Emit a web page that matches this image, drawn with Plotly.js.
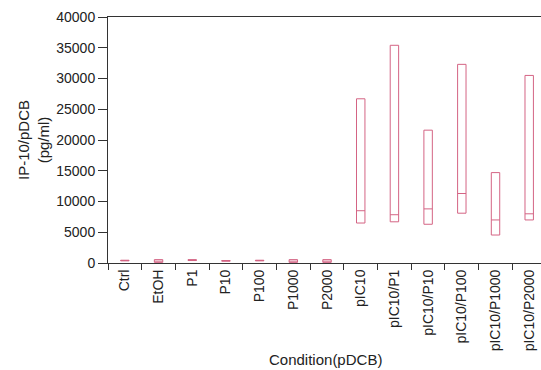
<!DOCTYPE html>
<html><head><meta charset="utf-8">
<script src="https://cdn.plot.ly/plotly-3.0.1.min.js"></script>
<style>html,body{margin:0;padding:0;background:#fff}</style>
</head><body><div id="chart" style="width:541px;height:370px"></div>
<script>
const categories = ["Ctrl","EtOH","P1","P10","P100","P1000","P2000","pIC10","pIC10/P1","pIC10/P10","pIC10/P100","pIC10/P1000","pIC10/P2000"];
const minVals    = [350, 100, 400, 300, 350, 100, 100, 6500, 6700, 6300, 8100, 4550, 7000];
const medianVals = [400, 300, 450, 350, 400, 300, 300, 8500, 7850, 8800, 11300, 7000, 8000];
const maxVals    = [450, 550, 550, 400, 450, 550, 550, 26700, 35400, 21600, 32300, 14700, 30500];
const yTicks = [0,5000,10000,15000,20000,25000,30000,35000,40000];

const trace = {
  type: 'box',
  x: categories,
  q1: minVals,
  median: medianVals,
  q3: maxVals,
  lowerfence: minVals,
  upperfence: maxVals,
  width: 0.25,
  whiskerwidth: 0,
  fillcolor: 'rgba(0,0,0,0)',
  line: {color: 'rgb(212,100,132)', width: 1},
  hoverinfo: 'skip',
  showlegend: false
};

const font = {family: '"Liberation Sans", Arial, sans-serif', size: 14, color: '#222'};
const titleFont = {family: '"Liberation Sans", Arial, sans-serif', size: 15, color: '#222'};
const layout = {
  width: 541, height: 370,
  margin: {l: 108, r: 0, t: 17, b: 107},
  paper_bgcolor: '#fff', plot_bgcolor: '#fff',
  font: font,
  showlegend: false,
  xaxis: {
    type: 'category',
    range: [-0.5, 12.35],
    tickson: 'boundaries',
    ticks: 'outside', ticklen: 6, tickcolor: '#333', tickwidth: 1,
    tickangle: -90,
    showline: true, linecolor: '#333', linewidth: 1, mirror: true,
    showgrid: false, zeroline: false,
    tickfont: font
  },
  yaxis: {
    range: [0, 40000],
    tickvals: yTicks,
    ticktext: yTicks.map(String),
    ticks: 'outside', ticklen: 9, tickcolor: '#333', tickwidth: 1,
    showline: true, linecolor: '#333', linewidth: 1,
    showgrid: false, zeroline: false,
    tickfont: font
  },
  annotations: [
    {text: 'Condition(pDCB)', xref: 'paper', yref: 'paper', x: 0.503, y: 0, yshift: -96,
     xanchor: 'center', yanchor: 'middle', showarrow: false, font: titleFont},
    {text: 'IP-10/pDCB<br>(pg/ml)', xref: 'paper', yref: 'paper', x: 0, y: 0.5, xshift: -75,
     xanchor: 'center', yanchor: 'middle', textangle: -90, showarrow: false, font: titleFont}
  ]
};
Plotly.newPlot('chart', [trace], layout, {displayModeBar: false, staticPlot: true});
</script></body></html>
